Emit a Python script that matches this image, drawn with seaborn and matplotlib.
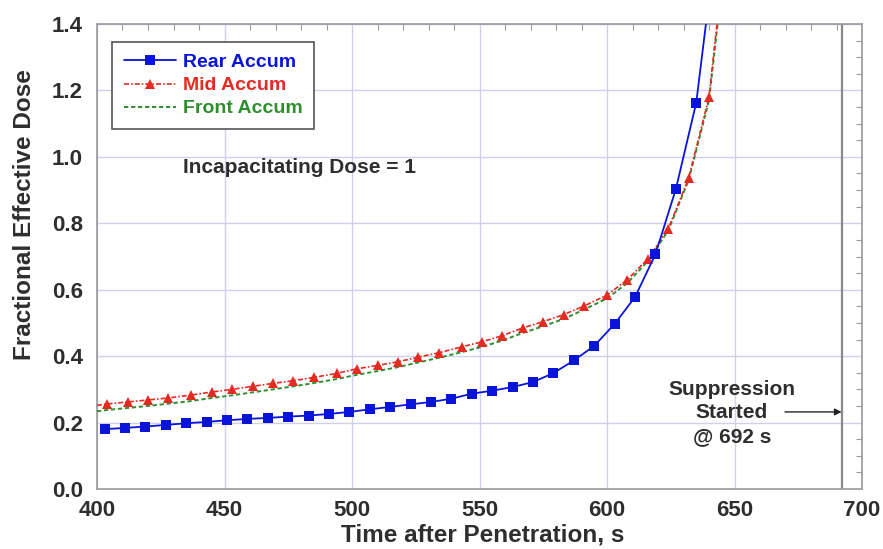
import matplotlib
matplotlib.use("Agg")
import matplotlib.pyplot as plt
from matplotlib.ticker import MultipleLocator
import seaborn as sns
import pandas as pd

# ---- data ----
rear_t = [403, 411, 419, 427, 435, 443, 451, 459, 467, 475, 483, 491, 499, 507, 515,
          523, 531, 539, 547, 555, 563, 571, 579, 587, 595, 603, 611, 619, 627, 635, 642]
rear_v = [0.180, 0.184, 0.188, 0.193, 0.198, 0.202, 0.207, 0.211, 0.214, 0.218, 0.221,
          0.226, 0.232, 0.240, 0.247, 0.255, 0.262, 0.272, 0.287, 0.296, 0.307, 0.322,
          0.349, 0.387, 0.431, 0.497, 0.578, 0.707, 0.903, 1.163, 1.600]

mid_t = [400, 404, 412, 420, 428, 437, 445, 453, 461, 469, 477, 485, 494, 502, 510, 518,
         526, 534, 543, 551, 559, 567, 575, 583, 591, 600, 608, 616, 624, 632, 640, 646]
mid_v = [0.252, 0.256, 0.262, 0.268, 0.274, 0.283, 0.292, 0.300, 0.309, 0.318, 0.326,
         0.336, 0.348, 0.362, 0.372, 0.383, 0.397, 0.410, 0.428, 0.443, 0.462, 0.485,
         0.504, 0.525, 0.551, 0.584, 0.630, 0.693, 0.783, 0.935, 1.180, 1.600]

front_t = [400, 404, 412, 420, 428, 437, 445, 453, 461, 469, 477, 485, 494, 502, 510, 518,
           526, 534, 543, 551, 559, 567, 575, 583, 591, 600, 608, 616, 624, 632, 640, 646]
front_v = [0.234, 0.238, 0.244, 0.250, 0.257, 0.265, 0.274, 0.282, 0.291, 0.300, 0.309,
           0.319, 0.331, 0.344, 0.355, 0.367, 0.381, 0.395, 0.412, 0.428, 0.447, 0.470,
           0.490, 0.512, 0.540, 0.574, 0.620, 0.686, 0.778, 0.930, 1.170, 1.580]

series_names = ["Rear Accum", "Mid Accum", "Front Accum"]
x_ticks = [400, 450, 500, 550, 600, 650, 700]
y_ticks = [0.0, 0.2, 0.4, 0.6, 0.8, 1.0, 1.2, 1.4]
suppression_time = 692
incap_text = "Incapacitating Dose = 1"
supp_text = "Suppression\nStarted\n@ 692 s"

# ---- styling ----
sns.set_theme(style="white")
plt.rcParams["font.family"] = ["Liberation Sans", "DejaVu Sans"]
plt.rcParams["font.weight"] = "bold"

fig = plt.figure(figsize=(8.83, 5.49), dpi=100)
ax = fig.add_axes([97 / 883, 60 / 549, 765 / 883, 465 / 549])

text_c = "#2e2e2e"
blue = "#0a14d8"
red = "#e52a22"
green = "#2f8f2f"

# vertical suppression line
ax.axvline(suppression_time, color="#8a8a8a", lw=1.6, zorder=2)

rear_df = pd.DataFrame({"t": rear_t, "v": rear_v})
mid_df = pd.DataFrame({"t": mid_t, "v": mid_v})
front_df = pd.DataFrame({"t": front_t, "v": front_v})

sns.lineplot(data=front_df, x="t", y="v", ax=ax, color=green, lw=1.4,
             linestyle=(0, (2.2, 1.4)), estimator=None, sort=False,
             label=series_names[2], zorder=3)
sns.lineplot(data=mid_df, x="t", y="v", ax=ax, color=red, lw=1.2,
             linestyle=(0, (3, 1.2, 1, 1.2)), marker="^", markersize=6.5,
             markeredgewidth=0, markevery=list(range(1, len(mid_t) - 1)),
             estimator=None, sort=False, label=series_names[1], zorder=4)
sns.lineplot(data=rear_df, x="t", y="v", ax=ax, color=blue, lw=1.3,
             linestyle="-", marker="s", markersize=7.5, markeredgewidth=0,
             markevery=list(range(len(rear_t) - 1)),
             estimator=None, sort=False, label=series_names[0], zorder=5)

ax.set_xlim(400, 700)
ax.set_ylim(0, 1.4)
ax.set_xticks(x_ticks)
ax.set_yticks(y_ticks)
ax.set_xticklabels([str(v) for v in x_ticks])
ax.set_yticklabels([f"{v:.1f}" for v in y_ticks])
ax.xaxis.set_minor_locator(MultipleLocator(10))
ax.yaxis.set_minor_locator(MultipleLocator(0.05))

ax.grid(True, which="major", color="#cfd0ee", lw=1.0, zorder=0)
ax.tick_params(axis="both", which="both", direction="in", top=True, right=True,
               color="#999999", labelcolor=text_c, labelsize=16)
ax.tick_params(axis="x", which="major", pad=8)
ax.tick_params(axis="y", which="major", pad=10)
ax.tick_params(which="major", length=0)
ax.tick_params(which="minor", length=4, width=0.8)
for lab in ax.get_xticklabels() + ax.get_yticklabels():
    lab.set_fontweight("bold")
for s in ax.spines.values():
    s.set_color("#9a9a9a")
    s.set_linewidth(1.2)

ax.set_xlabel("Time after Penetration, s", fontsize=17.5, fontweight="bold",
              color=text_c, va="center")
ax.xaxis.set_label_coords(386 / 765, (489 - 535) / 465)
ax.set_ylabel("Fractional Effective Dose", fontsize=17.5, fontweight="bold",
              color=text_c, va="center")
ax.yaxis.set_label_coords((25 - 97) / 765, (489 - 215) / 465)

# legend
handles, labels = ax.get_legend_handles_labels()
order = [labels.index(n) for n in series_names]
leg = ax.legend([handles[i] for i in order], [labels[i] for i in order],
                loc="upper left", bbox_to_anchor=(15 / 765, 1 - 18 / 465),
                frameon=True, fancybox=False, framealpha=1, edgecolor="#555555",
                fontsize=14, handlelength=2.7, handletextpad=0.35,
                borderpad=0.6, labelspacing=0.28, borderaxespad=0)
leg.get_frame().set_linewidth(1.2)
for txt, c in zip(leg.get_texts(), [blue, red, green]):
    txt.set_color(c)
    txt.set_fontweight("bold")

ax.text(433.7, 0.967, incap_text, fontsize=15, fontweight="bold", color=text_c,
        ha="left", va="center")
ax.text(649, 0.229, supp_text, fontsize=15, fontweight="bold", color=text_c,
        ha="center", va="center", linespacing=1.32)
ax.annotate("", xy=(suppression_time, 0.232), xytext=(669.8, 0.232),
            arrowprops=dict(arrowstyle="-|>", color="#222222", lw=1.0,
                            mutation_scale=10, shrinkA=0, shrinkB=0))

fig.savefig("out.png", dpi=100)
